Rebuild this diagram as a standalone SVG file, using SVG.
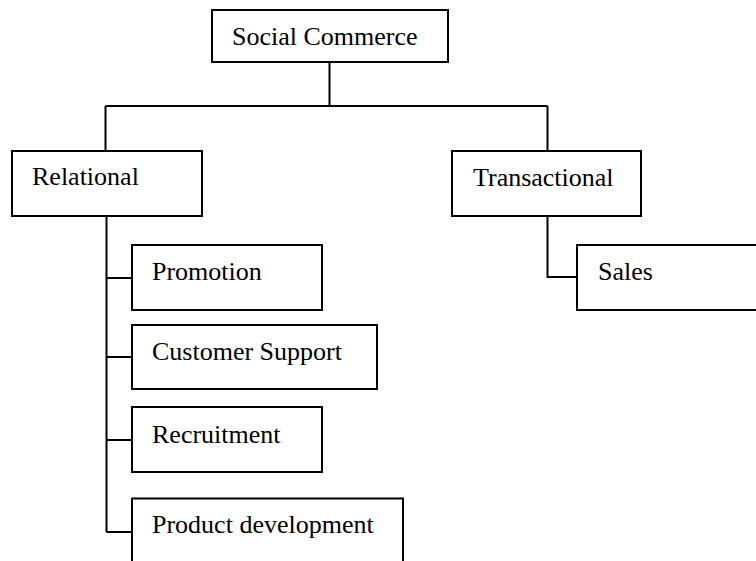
<svg xmlns="http://www.w3.org/2000/svg" width="756" height="561" viewBox="0 0 756 561">
<style>
.box{fill:#fff;stroke:#000;stroke-width:2}
.ln{fill:none;stroke:#000;stroke-width:2}
text{font-family:"Liberation Serif","Times New Roman",serif;font-size:26px;fill:#000}
</style>
<rect width="756" height="561" fill="#fff"/>
<g id="connectors">
<path class="ln" d="M329.5 62V106M105.5 106H547.5M105.5 106V151M547.5 106V151"/>
<path class="ln" d="M106.5 216V532M106.5 278H132M106.5 357H132M106.5 440H132M106.5 532H132"/>
<path class="ln" d="M547.5 216V277H577"/>
</g>
<g id="social-commerce"><rect class="box" x="212" y="10" width="236" height="52"/><text x="232" y="45">Social Commerce</text></g>
<g id="relational"><rect class="box" x="12" y="151" width="190" height="65"/><text x="32" y="185">Relational</text></g>
<g id="transactional"><rect class="box" x="452" y="151" width="189" height="65"/><text x="473" y="186">Transactional</text></g>
<g id="sales"><rect class="box" x="577" y="245" width="185" height="65"/><text x="598" y="280">Sales</text></g>
<g id="promotion"><rect class="box" x="132" y="245" width="190" height="65"/><text x="152" y="280">Promotion</text></g>
<g id="customer-support"><rect class="box" x="132" y="325" width="245" height="64"/><text x="152" y="360">Customer Support</text></g>
<g id="recruitment"><rect class="box" x="132" y="407" width="190" height="65"/><text x="152" y="443">Recruitment</text></g>
<g id="product-development"><path class="box" d="M132 565V498.5H403V565"/><text x="152" y="533">Product development</text></g>
</svg>
